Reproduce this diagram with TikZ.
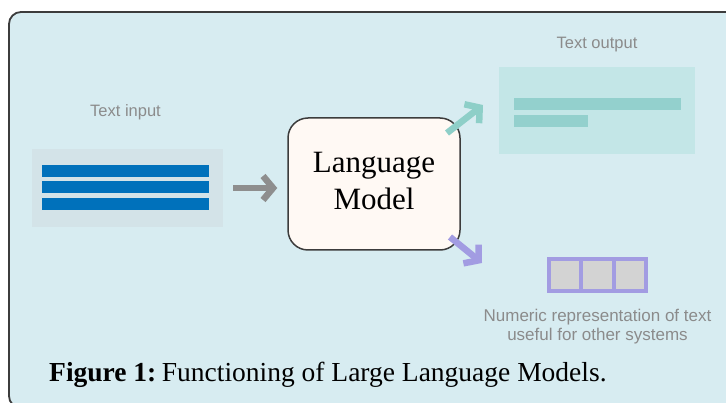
\documentclass[tikz,border=0pt]{standalone}
\usepackage{fontspec}
\setmainfont{Liberation Serif}
\newfontfamily\labelsans{Liberation Sans}
\usetikzlibrary{arrows.meta}

\definecolor{panelbg}{HTML}{D7ECF1}
\definecolor{panelframe}{HTML}{3C3C3C}
\definecolor{inbg}{HTML}{D3E3E8}
\definecolor{inbar}{HTML}{0071BB}
\definecolor{outbg}{HTML}{C3E6E7}
\definecolor{outbar}{HTML}{93D0CD}
\definecolor{arrgray}{HTML}{8E8E8E}
\definecolor{arrteal}{HTML}{8ECFC8}
\definecolor{arrpurple}{HTML}{A29CE2}
\definecolor{cellfill}{HTML}{D3D3D3}
\definecolor{lmfill}{HTML}{FFF9F4}
\definecolor{lblgray}{HTML}{8B8B8B}

\begin{document}
\begin{tikzpicture}[x=1pt,y=-1pt,
  panel/.style={inner sep=0pt, outer sep=0pt, draw=none},
  barshape/.style={inner sep=0pt, outer sep=0pt, draw=none, minimum height=12pt, anchor=north west},
  graylbl/.style={inner sep=0pt, anchor=base, text=lblgray, font=\labelsans\fontsize{16.5}{19.5}\selectfont},
  lmword/.style={inner sep=0pt, anchor=base, font=\fontsize{31}{37}\selectfont},
  cell/.style={draw=arrpurple, fill=cellfill, line width=4pt, inner sep=0pt,
    minimum width=32.3pt, minimum height=32pt, outer sep=0pt},
  fatarrow/.style={line width=6.5pt, -{Straight Barb[length=10pt,width=24pt]}},
]
\useasboundingbox (0,0) rectangle (726,403);
\clip (0,0) rectangle (726,403);
\fill[white] (0,0) rectangle (726,403);

% figure panel
\draw[panelframe, fill=panelbg, line width=1.8pt, rounded corners=12pt]
  (9,12) rectangle (745,408);

% text input
\node[graylbl] (inlbl) at (125.5,116.5) {Text input};
\node[panel, fill=inbg, minimum width=191pt, minimum height=78pt] (inbox) at (127.5,188) {};
\node[barshape, fill=inbar, minimum width=167pt] (inbar1) at (42,165) {};
\node[barshape, fill=inbar, minimum width=167pt] (inbar2) at (42,181.5) {};
\node[barshape, fill=inbar, minimum width=167pt] (inbar3) at (42,198) {};

% language model
\node[draw=panelframe, fill=lmfill, line width=1.5pt, rounded corners=20pt,
  minimum width=172pt, minimum height=132pt, inner sep=0pt] (lm) at (374,184) {};
\node[lmword] (lmtxt1) at (374,173) {Language};
\node[lmword] (lmtxt2) at (374,210) {Model};

% text output
\node[graylbl] (outlbl) at (597,48.3) {Text output};
\node[panel, fill=outbg, minimum width=196pt, minimum height=87pt] (outbox) at (597,110.5) {};
\node[barshape, fill=outbar, minimum width=167pt] (outbar1) at (514,98) {};
\node[barshape, fill=outbar, minimum width=74pt] (outbar2) at (514,115) {};

% numeric representation
\node[cell] (cellA) at (565.15,275) {};
\node[cell, anchor=west] (cellB) at (cellA.east) {};
\node[cell, anchor=west] (cellC) at (cellB.east) {};
\node[graylbl, font=\labelsans\fontsize{17}{19.5}\selectfont]
  (numlbl1) at (597.5,321.5) {Numeric representation of text};
\node[graylbl, font=\labelsans\fontsize{17}{19.5}\selectfont]
  (numlbl2) at (597.5,341) {useful for other systems};

% arrows
\coordinate (tealtail) at (447,133);
\coordinate (tealtip) at (483,105);
\coordinate (purptail) at (450,237);
\coordinate (purptip) at (482,263);
\draw[fatarrow, arrgray, shorten <=10pt, shorten >=10pt] (inbox.east) -- (inbox.east -| lm.west);
\draw[fatarrow, arrteal] (tealtail) -- (tealtip);
\draw[fatarrow, arrpurple] (purptail) -- (purptip);

% caption
\node[inner sep=0pt, anchor=base west, font=\fontsize{27.5}{32}\selectfont] (caption)
  at (49,382) {\textbf{Figure 1:}\hspace{0.2em}Functioning of Large Language Models.};
\end{tikzpicture}
\end{document}
